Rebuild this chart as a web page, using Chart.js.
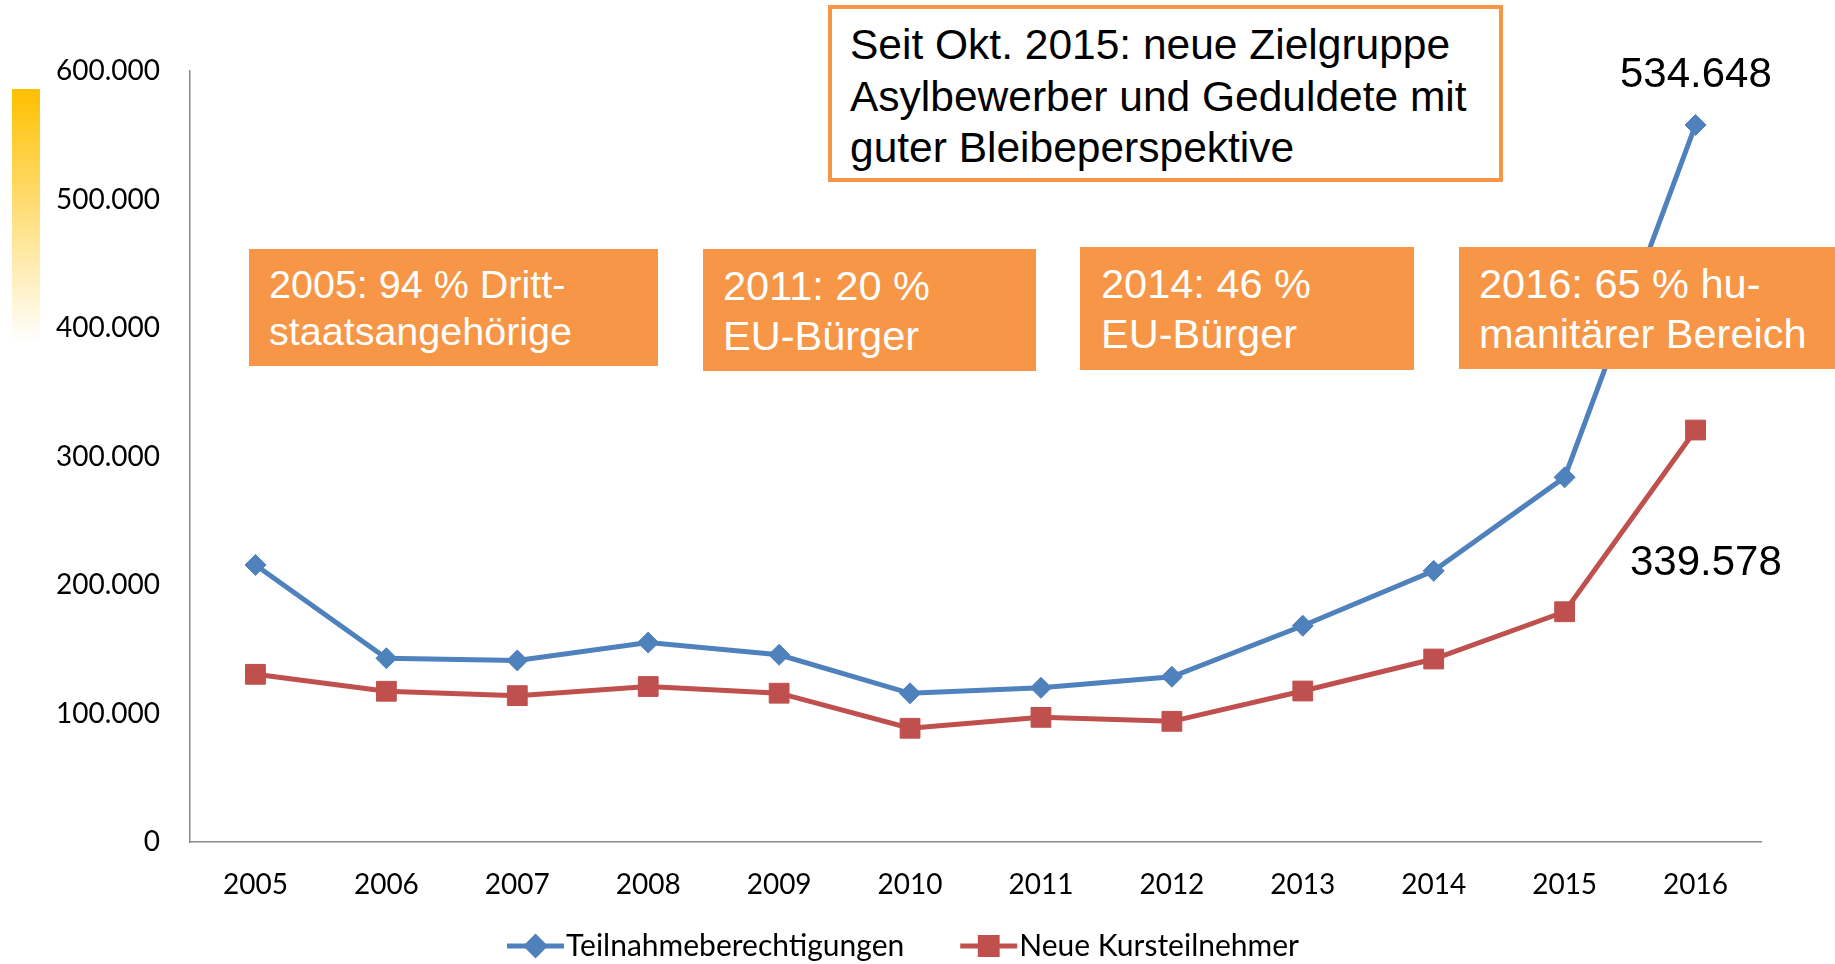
<!DOCTYPE html>
<html lang="de">
<head>
<meta charset="utf-8">
<title>Teilnahmeberechtigungen und neue Kursteilnehmer 2005-2016</title>
<script src="https://cdn.jsdelivr.net/npm/chart.js@4.4.1/dist/chart.umd.min.js"></script>
<style>
  html, body { margin: 0; padding: 0; background: #fff; }
  #wrap { position: relative; width: 1835px; height: 964px; overflow: hidden; }
  #chart { position: absolute; left: 0; top: 0; }
  .bar {
    position: absolute; left: 12px; top: 89px; width: 28px; height: 254px;
    background: linear-gradient(to bottom, #FFC000 0%, #FFFFFF 100%);
  }
  .note {
    position: absolute; box-sizing: border-box;
    background: #F79646; color: #fff;
    font-family: "Liberation Sans", Arial, sans-serif;
    font-size: 41.5px; line-height: 50px;
    padding: 12px 0 0 20px; white-space: nowrap;
  }
  .note.first { font-size: 39.5px; line-height: 47px; }
  .top-note {
    position: absolute; box-sizing: border-box;
    left: 828px; top: 5px; width: 675px; height: 177px;
    background: #fff; border: 4px solid #F79646; color: #000;
    font-family: "Liberation Sans", Arial, sans-serif;
    font-size: 42.5px; line-height: 51.5px;
    padding: 10px 0 0 18px; white-space: nowrap;
  }
  .value {
    position: absolute; color: #000;
    font-family: "Liberation Sans", Arial, sans-serif;
    font-size: 42px; line-height: 42px; white-space: nowrap;
  }
</style>
</head>
<body>
<div id="wrap">
  <canvas id="chart" width="1835" height="964"></canvas>
  <div class="bar"></div>
  <div class="top-note">Seit Okt. 2015: neue Zielgruppe<br>Asylbewerber und Geduldete mit<br>guter Bleibeperspektive</div>
  <div class="note first" style="left:249px; top:249px; width:409px; height:117px;">2005: 94 % Dritt-<br>staatsangehörige</div>
  <div class="note" style="left:703px; top:249px; width:333px; height:122px;">2011: 20 %<br>EU-Bürger</div>
  <div class="note" style="left:1080px; top:247px; width:334px; height:123px; padding-left:21px;">2014: 46 %<br>EU-Bürger</div>
  <div class="note" style="left:1459px; top:247px; width:376px; height:122px;">2016: 65 % hu-<br>manitärer Bereich</div>
  <div class="value" style="left:1620px; top:52px;">534.648</div>
  <div class="value" style="left:1630px; top:540px;">339.578</div>
</div>
<script>
// Jahre (Kategorien)
const years = ['2005', '2006', '2007', '2008', '2009', '2010', '2011', '2012', '2013', '2014', '2015', '2016'];

// Werte
const teilnahmeberechtigungen = [215600, 143000, 141300, 155200, 145700, 115700, 120000, 128600, 168300, 211000, 283800, 558000];
const neueKursteilnehmer = [130500, 117300, 113900, 121000, 115800, 88500, 97000, 93900, 117500, 142400, 179200, 320600];

// y-Achse
const yMin = 0;
const yMax = 600000;
const yStep = 100000;

const seriesNames = ['Teilnahmeberechtigungen', 'Neue Kursteilnehmer'];

const BLUE = '#4F81BD';
const RED = '#C0504D';
const AXIS = '#8A8A8A';
const labelFont = { family: 'Lato, "Open Sans", sans-serif', size: 28 };
const legendFont = { family: 'Lato, "Open Sans", sans-serif', size: 30 };

// German thousands separator
function formatNumber(v) {
    return String(v).replace(/\B(?=(\d{3})+(?!\d))/g, '.');
}

// Legend below the chart: line + marker + text for each dataset
const lineLegend = {
    id: 'lineLegend',
    afterDraw(chart) {
        const ctx = chart.ctx;
        const y = 946;
        const lineLen = 57;
        const gapText = 2;
        const gapItem = 56;
        ctx.save();
        ctx.font = legendFont.size + 'px ' + legendFont.family;
        const widths = chart.data.datasets.map(ds => lineLen + gapText + ctx.measureText(ds.label).width);
        const total = widths.reduce((a, b) => a + b, 0) + gapItem * (widths.length - 1);
        let x = 903 - total / 2;
        chart.data.datasets.forEach((ds, i) => {
            ctx.strokeStyle = ds.borderColor;
            ctx.lineWidth = ds.borderWidth;
            ctx.beginPath();
            ctx.moveTo(x, y);
            ctx.lineTo(x + lineLen, y);
            ctx.stroke();
            ctx.fillStyle = ds.pointBackgroundColor;
            ctx.strokeStyle = ds.pointBorderColor;
            Chart.helpers.drawPoint(ctx, {
                pointStyle: ds.pointStyle,
                radius: ds.pointRadius * 0.85,
                rotation: 0,
                borderWidth: 1
            }, x + lineLen / 2, y);
            ctx.fillStyle = '#000';
            ctx.textBaseline = 'middle';
            ctx.textAlign = 'left';
            ctx.fillText(ds.label, x + lineLen + gapText, y);
            x += widths[i] + gapItem;
        });
        ctx.restore();
    }
};

const chart = new Chart(document.getElementById('chart'), {
    type: 'line',
    data: {
        labels: years,
        datasets: [
            {
                label: seriesNames[0],
                data: teilnahmeberechtigungen,
                borderColor: BLUE,
                borderWidth: 5,
                pointStyle: 'rectRot',
                pointRadius: 10.5,
                pointBackgroundColor: BLUE,
                pointBorderColor: BLUE,
                pointBorderWidth: 1,
                tension: 0
            },
            {
                label: seriesNames[1],
                data: neueKursteilnehmer,
                borderColor: RED,
                borderWidth: 5,
                pointStyle: 'rect',
                pointRadius: 14,
                pointBackgroundColor: RED,
                pointBorderColor: RED,
                pointBorderWidth: 1,
                tension: 0
            }
        ]
    },
    options: {
        responsive: false,
        animation: false,
        layout: { padding: { top: 71, right: 74, bottom: 0, left: 0 } },
        plugins: {
            legend: { display: false },
            tooltip: { enabled: false }
        },
        scales: {
            x: {
                offset: true,
                grid: { display: false, drawTicks: false },
                border: { display: true, color: AXIS, width: 1.5 },
                ticks: { font: labelFont, color: '#000', padding: 26, maxRotation: 0 },
                afterFit(scale) { scale.height = 122; }
            },
            y: {
                min: yMin,
                max: yMax,
                grid: { display: false, drawTicks: false },
                border: { display: true, color: AXIS, width: 1.5 },
                ticks: {
                    stepSize: yStep,
                    font: labelFont,
                    color: '#000',
                    padding: 30,
                    callback: v => formatNumber(v)
                },
                afterFit(scale) { scale.width = 190; }
            }
        }
    },
    plugins: [lineLegend]
});
</script>
</body>
</html>
